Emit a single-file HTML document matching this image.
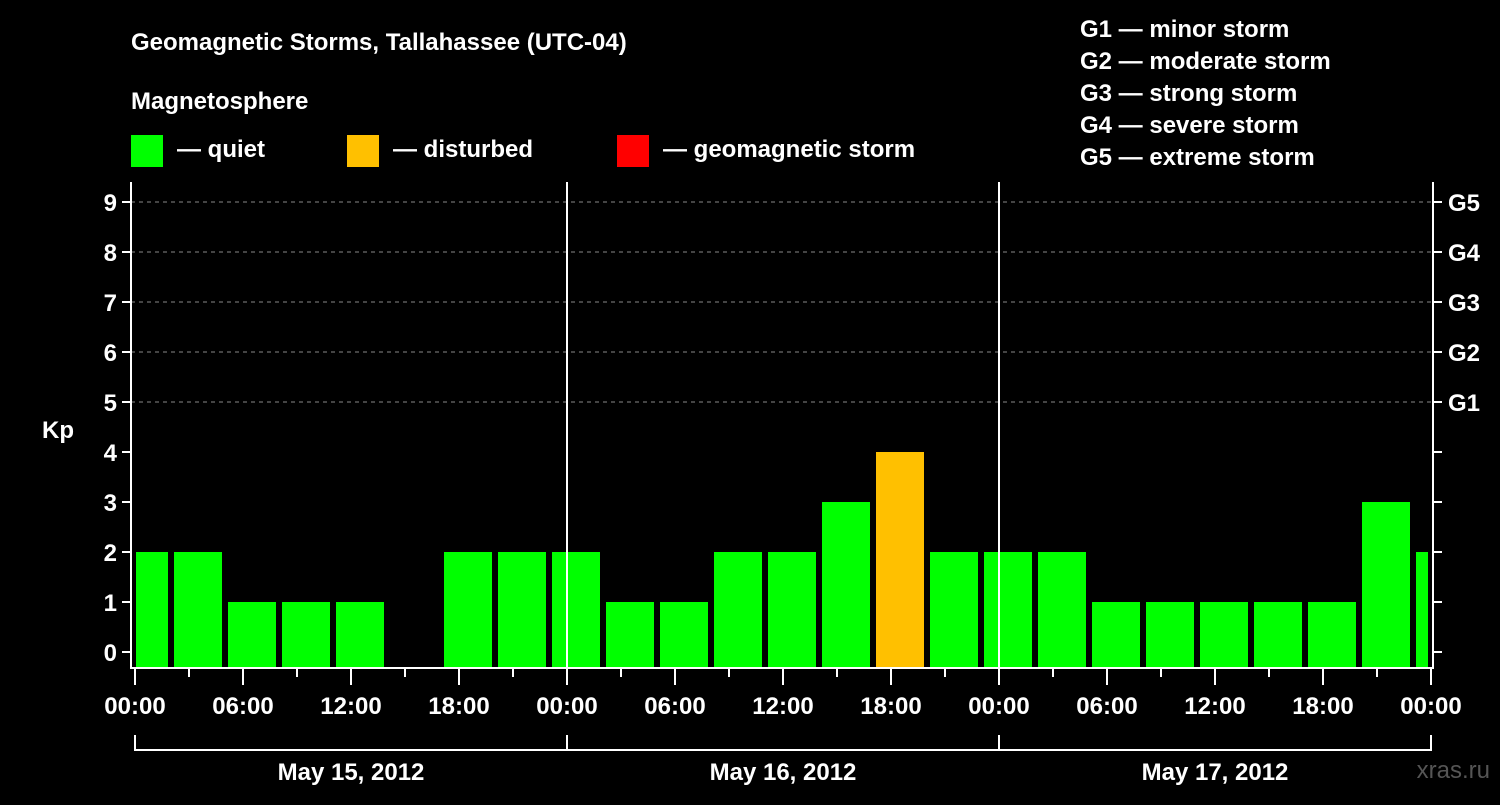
<!DOCTYPE html>
<html><head><meta charset="utf-8"><style>
body{margin:0;background:#000;width:1500px;height:800px;overflow:hidden}
svg text{font-family:"Liberation Sans",sans-serif;font-weight:bold;fill:#fff}
</style></head><body>
<svg id="c" width="1500" height="800">
<text x="131" y="50" font-size="24">Geomagnetic Storms, Tallahassee (UTC-04)</text>
<text x="131" y="109" font-size="24">Magnetosphere</text>
<g>
<rect x="131" y="135" width="32" height="32" fill="#00ff00"/>
<text x="177" y="157" font-size="24">— quiet</text>
<rect x="347" y="135" width="32" height="32" fill="#ffc000"/>
<text x="393" y="157" font-size="24">— disturbed</text>
<rect x="617" y="135" width="32" height="32" fill="#ff0000"/>
<text x="663" y="157" font-size="24">— geomagnetic storm</text>
</g>
<g font-size="24">
<text x="1080" y="37">G1 — minor storm</text>
<text x="1080" y="69">G2 — moderate storm</text>
<text x="1080" y="101">G3 — strong storm</text>
<text x="1080" y="133">G4 — severe storm</text>
<text x="1080" y="165">G5 — extreme storm</text>
</g>
<text x="42" y="438" font-size="24">Kp</text>
<text x="1500" y="778" font-size="24" fill="#666" style="fill:#555;font-weight:normal" text-anchor="end" dx="-10">xras.ru</text>
<defs><clipPath id="clip"><rect x="136" y="182" width="1292" height="486"/></clipPath></defs>
<g id="grid"></g>
<g id="bars" clip-path="url(#clip)"></g>
<g id="axes"></g>
</svg>
<script>
const values=[2,2,1,1,1,0,2,2, 2,1,1,2,2,3,4,2, 2,2,1,1,1,1,1,3, 2];
const yTicks=[0,1,2,3,4,5,6,7,8,9];
const gLabels=["G1","G2","G3","G4","G5"];
const xTickLabels=["00:00","06:00","12:00","18:00","00:00","06:00","12:00","18:00","00:00","06:00","12:00","18:00","00:00"];
const dayLabels=["May 15, 2012","May 16, 2012","May 17, 2012"];
const NS="http://www.w3.org/2000/svg";
const x0=135,pxH=18,y0=652,pxK=50,L=131,R=1433,T=182,B=668;
const X=h=>x0+h*pxH, Y=v=>y0-v*pxK;
function mk(p,tag,a){const e=document.createElementNS(NS,tag);for(const k in a)e.setAttribute(k,a[k]);p.appendChild(e);return e;}
const grid=document.getElementById('grid'),bars=document.getElementById('bars'),axes=document.getElementById('axes');
yTicks.forEach(v=>{if(v>=5){const l=mk(grid,'line',{x1:L,x2:R,y1:Y(v),y2:Y(v),stroke:'#888','stroke-dasharray':'4,4','stroke-width':1});

}});
values.forEach((v,i)=>{if(v<=0)return;const c=X(0.5+3*i);const col=v>=5?'#ff0000':(v>=4?'#ffc000':'#00ff00');
const r=mk(bars,'rect',{x:c-24,y:Y(v),width:48,height:B-Y(v),fill:col});

});
const st={stroke:'#fff','stroke-width':2};
[567,999].forEach(x=>{const l=mk(axes,'line',Object.assign({x1:x,x2:x,y1:T,y2:B},st));

});
const fr=mk(axes,'path',Object.assign({d:`M${L} ${T}V${B}H${R}V${T}`,fill:'none'},st));


yTicks.forEach(v=>{mk(axes,'line',Object.assign({x1:L-9,x2:L,y1:Y(v),y2:Y(v)},st));mk(axes,'line',Object.assign({x1:R,x2:R+9,y1:Y(v),y2:Y(v)},st));
const t=mk(axes,'text',{x:L-14,y:Y(v)+9,'font-size':24,'text-anchor':'end'});t.textContent=v;

});
gLabels.forEach((g,i)=>{const t=mk(axes,'text',{x:1448,y:Y(5+i)+9,'font-size':24});t.textContent=g;

});
for(let h=0;h<=72;h+=3){const major=h%6===0;mk(axes,'line',Object.assign({x1:X(h),x2:X(h),y1:B,y2:B+(major?17:9)},st));}
xTickLabels.forEach((s,i)=>{const t=mk(axes,'text',{x:X(i*6),y:714,'font-size':24,'text-anchor':'middle'});t.textContent=s;

});
const br=mk(axes,'path',Object.assign({d:`M${X(0)} 735V750H${X(72)}V735M${X(24)} 735V750M${X(48)} 735V750`,fill:'none'},st));


dayLabels.forEach((s,i)=>{const t=mk(axes,'text',{x:X(12+24*i),y:780,'font-size':24,'text-anchor':'middle'});t.textContent=s;

});
</script>
</body></html>
